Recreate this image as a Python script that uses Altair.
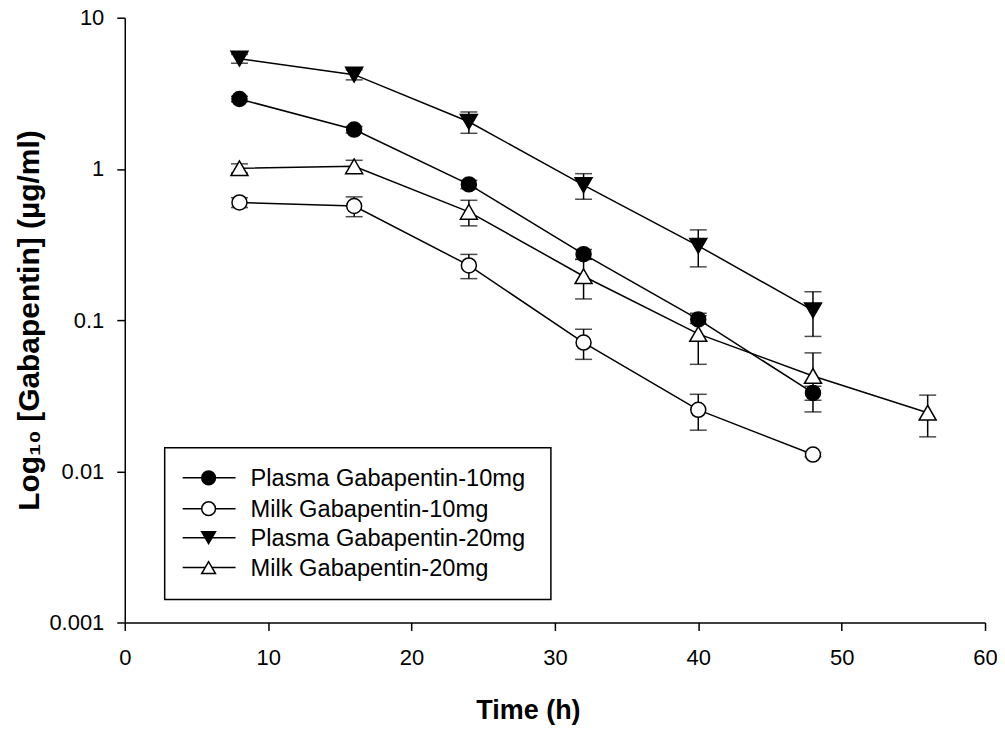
import altair as alt
import pandas as pd

# ---------------- data ----------------
time_h = [8, 16, 24, 32, 40, 48, 56]

series_names = [
    "Plasma Gabapentin-10mg",
    "Milk Gabapentin-10mg",
    "Plasma Gabapentin-20mg",
    "Milk Gabapentin-20mg",
]

plasma_10_mean = [2.90, 1.82, 0.79, 0.273, 0.101, 0.033]
plasma_10_sd = [0.12, 0.09, 0.05, 0.02, 0.006, 0.0035]

milk_10_mean = [0.60, 0.568, 0.23, 0.071, 0.0255, 0.0129]
milk_10_sd = [0.045, 0.085, 0.042, 0.016, 0.0068, 0.0004]

plasma_20_mean = [5.36, 4.20, 2.05, 0.78, 0.31, 0.116]
plasma_20_sd = [0.36, 0.32, 0.33, 0.15, 0.085, 0.038]

milk_20_mean = [1.01, 1.04, 0.52, 0.195, 0.081, 0.0427, 0.0244]
milk_20_sd = [0.07, 0.10, 0.10, 0.057, 0.03, 0.018, 0.0075]

means = [plasma_10_mean, milk_10_mean, plasma_20_mean, milk_20_mean]
sds = [plasma_10_sd, milk_10_sd, plasma_20_sd, milk_20_sd]

marker_shapes = ["circle", "circle", "triangle-down", "triangle-up"]
marker_fills = ["black", "white", "black", "white"]
marker_sizes = [225, 225, 290, 290]

x_ticks = [0, 10, 20, 30, 40, 50, 60]
y_ticks = [0.001, 0.01, 0.1, 1, 10]

rows = []
for name, m, s in zip(series_names, means, sds):
    for t, v, e in zip(time_h, m, s):
        rows.append({"series": name, "time": t, "conc": v, "lo": v - e, "hi": v + e})
df = pd.DataFrame(rows)

FONT = "Liberation Sans"

x_enc = alt.X(
    "time:Q",
    scale=alt.Scale(domain=[0, 60], nice=False, zero=False),
    axis=alt.Axis(values=x_ticks, title="Time (h)", format="d",
                  labelPadding=17, titlePadding=29, titleX=404, titleFontSize=27),
)
y_scale = alt.Scale(type="log", domain=[0.001, 10], nice=False)
y_enc = alt.Y(
    "conc:Q",
    scale=y_scale,
    axis=alt.Axis(values=y_ticks, title="Log₁₀ [Gabapentin] (µg/ml)",
                  labelExpr="datum.value >= 1 ? format(datum.value, 'd') : format(datum.value, '.3~f')",
                  labelPadding=13, titlePadding=4, titleFontSize=30),
)

base = alt.Chart(df)

err_rule = base.mark_rule(color="black", strokeWidth=1.5).encode(
    x=x_enc, y=alt.Y("lo:Q", scale=y_scale), y2="hi:Q"
)
cap_lo = base.mark_tick(color="black", orient="horizontal", size=17, thickness=1.5).encode(
    x="time:Q", y=alt.Y("lo:Q", scale=y_scale)
)
cap_hi = base.mark_tick(color="black", orient="horizontal", size=17, thickness=1.5).encode(
    x="time:Q", y=alt.Y("hi:Q", scale=y_scale)
)
lines = base.mark_line(color="black", strokeWidth=1.5).encode(
    x=x_enc, y=y_enc, detail="series:N", order="time:Q"
)

point_layers = []
for name, shp, fc, sz in zip(series_names, marker_shapes, marker_fills, marker_sizes):
    point_layers.append(
        base.transform_filter(alt.datum.series == name)
        .mark_point(shape=shp, fill=fc, filled=True, stroke="black", strokeWidth=1.5,
                    size=sz, opacity=1, fillOpacity=1)
        .encode(x="time:Q", y=alt.Y("conc:Q", scale=y_scale))
    )

# ---------------- legend (drawn inside the plot) ----------------
legend_df = pd.DataFrame({"series": series_names})
legend_box = alt.Chart(legend_df.head(1)).mark_rect(
    fill="white", stroke="black", strokeWidth=1.5
).encode(x=alt.value(40), x2=alt.value(427), y=alt.value(431), y2=alt.value(583))

legend_layers = [legend_box]
row_y = [461, 492, 521, 551]
for name, shp, fc, ry in zip(series_names, marker_shapes, marker_fills, row_y):
    one = alt.Chart(legend_df).transform_filter(alt.datum.series == name)
    legend_layers.append(
        one.mark_rule(color="black", strokeWidth=1.5).encode(
            x=alt.value(58), x2=alt.value(111), y=alt.value(ry))
    )
    legend_layers.append(
        one.mark_point(shape=shp, fill=fc, filled=True, stroke="black", strokeWidth=1.5,
                       size=190, opacity=1, fillOpacity=1).encode(
            x=alt.value(84), y=alt.value(ry))
    )
    legend_layers.append(
        one.mark_text(align="left", baseline="middle", font=FONT, fontSize=23.7, color="black").encode(
            x=alt.value(126), y=alt.value(ry + 1), text="series:N")
    )

chart = alt.layer(err_rule, cap_lo, cap_hi, lines, *point_layers, *legend_layers).properties(
    width=862,
    height=606,
    autosize="none",
    padding={"left": 117, "top": 9, "right": 12, "bottom": 104},
).configure_view(stroke=None).configure_axis(
    grid=False,
    domainColor="black",
    domainWidth=1.5,
    tickColor="black",
    tickWidth=1.5,
    tickSize=8,
    labelFont=FONT,
    labelFontSize=22,
    labelColor="black",
    titleFont=FONT,
    titleFontWeight="bold",
    titleColor="black",
    labelFlush=False,
    labelOverlap=False,
)

chart.save("out.html", embed_options={"renderer": "svg", "actions": False})
